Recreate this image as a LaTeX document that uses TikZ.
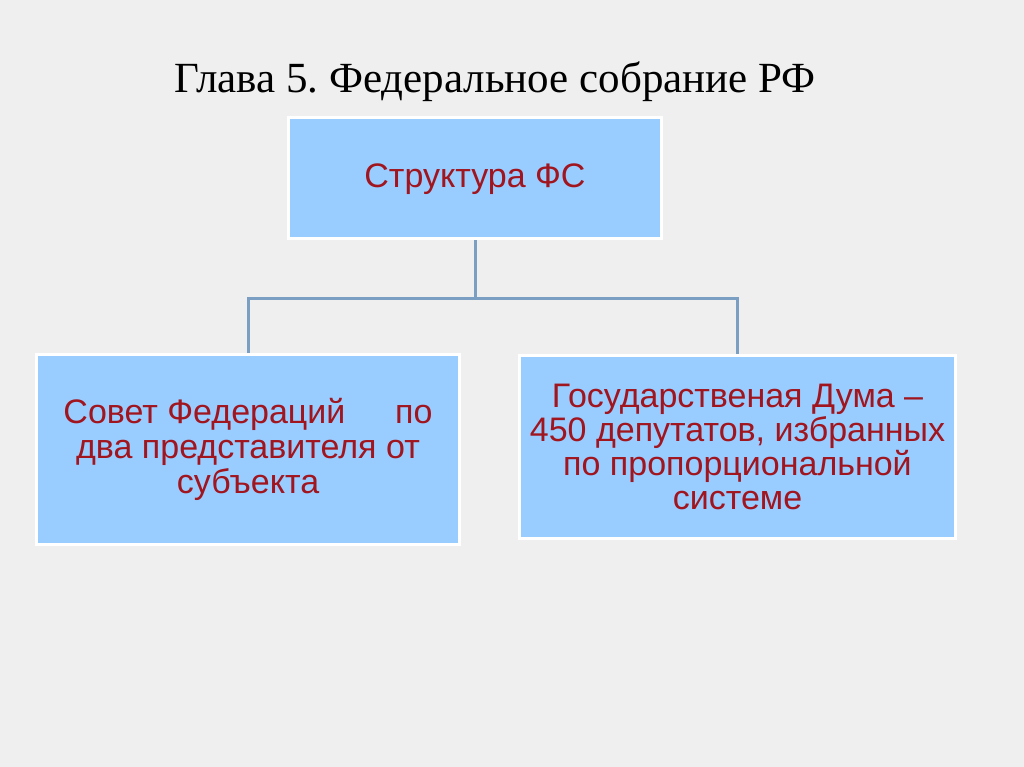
\documentclass[tikz,border=0pt]{standalone}
\usepackage{fontspec}
\setmainfont{Liberation Serif}
\newfontfamily\boxfont{Liberation Sans}
\usepackage{tikz}
\frenchspacing
\definecolor{slidebg}{HTML}{EFEFEF}
\definecolor{boxblue}{HTML}{99CCFF}
\definecolor{boxred}{HTML}{A0151E}
\definecolor{linkblue}{HTML}{7B9FC3}
\tikzset{box/.style={draw=white, line width=3bp, fill=boxblue, text=boxred, align=center, inner sep=0pt,
  font=\boxfont\fontsize{34bp}{35bp}\selectfont},
link/.style={draw=linkblue, line width=3bp}}

\begin{document}
\begin{tikzpicture}[x=1bp,y=-1bp]
% background
\fill[slidebg] (0,0) rectangle (1024,767);
\useasboundingbox (0,0) rectangle (1024,767);

% title
\node (title) [anchor=base, font=\fontsize{43bp}{47bp}\selectfont] at (495,93) {Глава 5. Федеральное собрание РФ};

%boxes
\node (top) [box, minimum width=373bp, minimum height=121bp, text height=22bp, text depth=4bp] at (475,178) {Структура ФС};
\node (sovet) [box, minimum width=423bp, minimum height=190bp] at (248,449.5)
  {\makebox[369bp]{Совет Федераций\hfill по}\\два представителя от\\субъекта};
\node (duma) [box, minimum width=436bp, minimum height=183bp, font=\boxfont\fontsize{34bp}{34bp}\selectfont] at (737.5,447)
  {Государственая Дума –\\450 депутатов, избранных\\по пропорциональной\\системе};

%links
\coordinate (split) at (475,298);
\draw [link] (top.south) -- (split);
\draw [link] (sovet.north) |- (split) -| (duma.north);
\end{tikzpicture}
\end{document}
